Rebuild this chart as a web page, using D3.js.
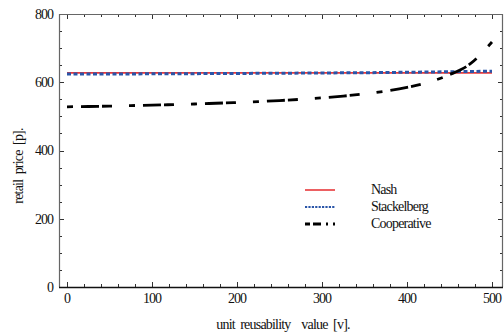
<!DOCTYPE html>
<html>
<head>
<meta charset="utf-8">
<script src="https://cdn.jsdelivr.net/npm/d3@7"></script>
<style>
  html, body { margin: 0; padding: 0; background: #fff; }
  svg text { font-family: "Liberation Serif", "DejaVu Serif", serif; fill: #111; }
</style>
</head>
<body>
<svg id="chart" width="504" height="335"></svg>
<script>
// unit reusability value v (x) and retail price p (y) for the three game settings
const vValues = [0, 25, 50, 75, 100, 125, 150, 175, 200, 225, 250, 275, 300, 325, 350, 375, 400, 425, 450, 475, 500];
const nashPrice = [627.5, 627.5, 627.5, 627.5, 627.5, 627.5, 627.5, 627.5, 627.5, 627.5, 627.5, 627.5, 627.5, 627.5, 627.5, 627.5, 627.5, 627.5, 627.5, 627.5, 627.5];
const stackelbergPrice = [624, 624.1, 624.2, 624.4, 624.8, 625, 625.2, 625.5, 625.8, 626.1, 626.4, 626.8, 627.2, 627.6, 628, 628.5, 629.3, 630, 630.8, 631.6, 632.5];
const cooperativePrice = [528, 529, 530, 531.5, 533, 534.5, 536.3, 538.4, 540.7, 543.3, 546.4, 550, 554.3, 559.5, 566, 574.2, 585, 599.8, 622, 655, 718];

const seriesNames = ["Nash", "Stackelberg", "Cooperative"];
const xTicks = [0, 100, 200, 300, 400, 500];
const yTicks = [0, 200, 400, 600, 800];

const svg = d3.select("#chart");
const frame = { left: 59, right: 503, top: 14, bottom: 287 };

const x = d3.scaleLinear().domain([0, 500]).range([67, 492]);
const y = d3.scaleLinear().domain([0, 800]).range([frame.bottom, frame.top]);

const xMinor = d3.range(-20, 521, 20).filter(v => x(v) > frame.left && x(v) < frame.right);
const yMinor = d3.range(0, 801, 50);

// inward ticks on all four sides
const tickG = svg.append("g").attr("stroke", "#333").attr("stroke-width", 1);
function tick(x1, y1, x2, y2) {
  tickG.append("line").attr("x1", x1).attr("y1", y1).attr("x2", x2).attr("y2", y2);
}
xMinor.forEach(v => {
  const len = xTicks.includes(v) ? 5 : 3;
  const px = Math.round(x(v)) + 0.5;
  tick(px, frame.bottom, px, frame.bottom - len);
  tick(px, frame.top, px, frame.top + len);
});
yMinor.forEach(v => {
  const len = yTicks.includes(v) ? 5 : 3;
  const py = Math.round(y(v)) + 0.5;
  tick(frame.left, py, frame.left + len, py);
  tick(frame.right, py, frame.right - len, py);
});

// frame
svg.append("path")
  .attr("d", `M${frame.left + 0.5},${frame.bottom} V${frame.top + 0.5} H${frame.right - 0.5} V${frame.bottom}`)
  .attr("fill", "none").attr("stroke", "#666").attr("stroke-width", 1.2);
svg.append("line")
  .attr("x1", frame.left).attr("x2", frame.right)
  .attr("y1", frame.bottom + 0.5).attr("y2", frame.bottom + 0.5)
  .attr("stroke", "#111").attr("stroke-width", 1.3);

// tick labels
svg.append("g").selectAll("text").data(yTicks).join("text")
  .attr("x", 53).attr("y", d => y(d)).attr("dy", "0.35em")
  .attr("text-anchor", "end").attr("font-size", 14).attr("letter-spacing", "-1px")
  .text(d => d);
svg.append("g").selectAll("text").data(xTicks).join("text")
  .attr("x", d => x(d)).attr("y", 298).attr("dy", "0.35em")
  .attr("text-anchor", "middle").attr("font-size", 14).attr("letter-spacing", "-1px")
  .text(d => d);

// axis titles (non-breaking spaces keep the wide word gaps)
svg.append("text")
  .attr("transform", `translate(18,${166}) rotate(-90)`)
  .attr("text-anchor", "middle").attr("dy", "0.35em")
  .attr("font-size", 14).attr("letter-spacing", "-0.8px")
  .text("retail\u00a0\u00a0price\u00a0\u00a0[p].");
svg.append("text")
  .attr("x", 283).attr("y", 324).attr("dy", "0.35em")
  .attr("text-anchor", "middle")
  .attr("font-size", 14).attr("letter-spacing", "-0.8px")
  .text("unit\u00a0\u00a0reusability\u00a0\u00a0\u00a0\u00a0value\u00a0\u00a0[v].");

// series
const styles = [
  { color: "#e8393b", width: 1.6, dash: null },
  { color: "#2a55a8", width: 3, dash: "4,2.5" },
  { color: "#000", width: 2.8, dash: "6,8,18,3,10,17" }
];
const seriesData = [nashPrice, stackelbergPrice, cooperativePrice];
const line = d3.line().x((d, i) => x(vValues[i])).y(d => y(d)).curve(d3.curveMonotoneX);

const plot = svg.append("g");
seriesData.forEach((vals, k) => {
  plot.append("path").datum(vals)
    .attr("d", line)
    .attr("fill", "none")
    .attr("stroke", styles[k].color)
    .attr("stroke-width", styles[k].width)
    .attr("stroke-dasharray", styles[k].dash);
});

// legend
const legend = svg.append("g");
seriesNames.forEach((name, k) => {
  const ly = 190 + k * 17;
  legend.append("line")
    .attr("x1", 305).attr("x2", 335).attr("y1", ly).attr("y2", ly)
    .attr("stroke", styles[k].color)
    .attr("stroke-width", k === 1 ? 2.2 : styles[k].width)
    .attr("stroke-dasharray", k === 0 ? null : (k === 1 ? "2.2,1.2" : "5,3,8,5,2"));
  legend.append("text")
    .attr("x", 371).attr("y", ly).attr("dy", "0.3em")
    .attr("font-size", 14).attr("letter-spacing", "-0.8px")
    .text(name);
});
</script>
</body>
</html>
